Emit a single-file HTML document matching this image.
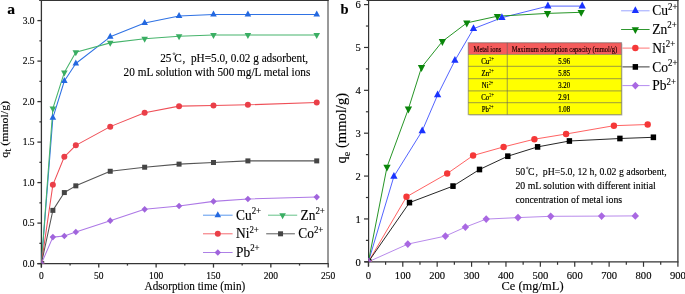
<!DOCTYPE html>
<html><head><meta charset="utf-8"><style>
html,body{margin:0;padding:0;background:#fff;width:685px;height:294px;overflow:hidden}
svg{display:block;will-change:transform}
</style></head><body>
<svg width="685" height="294" viewBox="0 0 685 294">
<defs><clipPath id="ca"><rect x="41.40" y="0.35" width="286.80" height="263.25"/></clipPath>
<clipPath id="cb"><rect x="368.40" y="0.30" width="309.50" height="261.50"/></clipPath></defs>
<line x1="39.40" y1="0.35" x2="328.70" y2="0.35" stroke="#353535" stroke-width="1.4"/>
<line x1="328.00" y1="0" x2="328.00" y2="263.60" stroke="#353535" stroke-width="1.0"/>
<line x1="41.40" y1="0" x2="41.40" y2="267.60" stroke="#353535" stroke-width="1.3"/>
<line x1="37.40" y1="263.60" x2="328.70" y2="263.60" stroke="#353535" stroke-width="1.3"/>
<g clip-path="url(#ca)">
<polyline points="41.40,263.60 52.87,117.80 64.34,81.03 75.82,63.53 110.23,36.80 144.65,23.03 179.06,15.90 213.48,14.53 247.90,14.53 316.73,14.53" fill="none" stroke="#2f72e4" stroke-width="1.05" stroke-linejoin="round"/>
<polyline points="41.40,263.60 52.87,108.49 64.34,72.44 75.82,52.19 110.23,42.88 144.65,38.83 179.06,36.23 213.48,35.02 247.90,35.02 316.73,35.02" fill="none" stroke="#47b46c" stroke-width="1.05" stroke-linejoin="round"/>
<polyline points="41.40,263.60 52.87,184.87 64.34,156.76 75.82,145.34 110.23,126.63 144.65,112.78 179.06,106.14 213.48,105.41 247.90,104.84 316.73,102.41" fill="none" stroke="#ef4f57" stroke-width="1.05" stroke-linejoin="round"/>
<polyline points="41.40,263.60 52.87,210.38 64.34,192.56 75.82,185.84 110.23,171.26 144.65,167.21 179.06,164.13 213.48,162.51 247.90,160.89 316.73,160.89" fill="none" stroke="#555555" stroke-width="1.05" stroke-linejoin="round"/>
<polyline points="41.40,263.60 52.87,237.11 64.34,235.98 75.82,232.01 110.23,220.67 144.65,209.33 179.06,206.01 213.48,201.39 247.90,198.96 316.73,197.10" fill="none" stroke="#ad78e6" stroke-width="1.05" stroke-linejoin="round"/>
<path d="M41.40,259.64L44.70,265.64L38.10,265.64Z" fill="#2368e0"/>
<path d="M52.87,113.84L56.17,119.84L49.57,119.84Z" fill="#2368e0"/>
<path d="M64.34,77.07L67.64,83.07L61.04,83.07Z" fill="#2368e0"/>
<path d="M75.82,59.57L79.12,65.57L72.52,65.57Z" fill="#2368e0"/>
<path d="M110.23,32.84L113.53,38.84L106.93,38.84Z" fill="#2368e0"/>
<path d="M144.65,19.07L147.95,25.07L141.35,25.07Z" fill="#2368e0"/>
<path d="M179.06,11.94L182.36,17.94L175.76,17.94Z" fill="#2368e0"/>
<path d="M213.48,10.57L216.78,16.57L210.18,16.57Z" fill="#2368e0"/>
<path d="M247.90,10.57L251.20,16.57L244.60,16.57Z" fill="#2368e0"/>
<path d="M316.73,10.57L320.03,16.57L313.43,16.57Z" fill="#2368e0"/>
<path d="M41.40,267.56L44.70,261.56L38.10,261.56Z" fill="#3aae63"/>
<path d="M52.87,112.45L56.17,106.45L49.57,106.45Z" fill="#3aae63"/>
<path d="M64.34,76.40L67.64,70.40L61.04,70.40Z" fill="#3aae63"/>
<path d="M75.82,56.15L79.12,50.15L72.52,50.15Z" fill="#3aae63"/>
<path d="M110.23,46.84L113.53,40.84L106.93,40.84Z" fill="#3aae63"/>
<path d="M144.65,42.79L147.95,36.79L141.35,36.79Z" fill="#3aae63"/>
<path d="M179.06,40.19L182.36,34.19L175.76,34.19Z" fill="#3aae63"/>
<path d="M213.48,38.98L216.78,32.98L210.18,32.98Z" fill="#3aae63"/>
<path d="M247.90,38.98L251.20,32.98L244.60,32.98Z" fill="#3aae63"/>
<path d="M316.73,38.98L320.03,32.98L313.43,32.98Z" fill="#3aae63"/>
<ellipse cx="41.40" cy="263.60" rx="3.00" ry="3.00" fill="#ea3f48"/>
<ellipse cx="52.87" cy="184.87" rx="3.00" ry="3.00" fill="#ea3f48"/>
<ellipse cx="64.34" cy="156.76" rx="3.00" ry="3.00" fill="#ea3f48"/>
<ellipse cx="75.82" cy="145.34" rx="3.00" ry="3.00" fill="#ea3f48"/>
<ellipse cx="110.23" cy="126.63" rx="3.00" ry="3.00" fill="#ea3f48"/>
<ellipse cx="144.65" cy="112.78" rx="3.00" ry="3.00" fill="#ea3f48"/>
<ellipse cx="179.06" cy="106.14" rx="3.00" ry="3.00" fill="#ea3f48"/>
<ellipse cx="213.48" cy="105.41" rx="3.00" ry="3.00" fill="#ea3f48"/>
<ellipse cx="247.90" cy="104.84" rx="3.00" ry="3.00" fill="#ea3f48"/>
<ellipse cx="316.73" cy="102.41" rx="3.00" ry="3.00" fill="#ea3f48"/>
<rect x="38.90" y="261.10" width="5.00" height="5.00" fill="#454545"/>
<rect x="50.37" y="207.88" width="5.00" height="5.00" fill="#454545"/>
<rect x="61.84" y="190.06" width="5.00" height="5.00" fill="#454545"/>
<rect x="73.32" y="183.34" width="5.00" height="5.00" fill="#454545"/>
<rect x="107.73" y="168.76" width="5.00" height="5.00" fill="#454545"/>
<rect x="142.15" y="164.71" width="5.00" height="5.00" fill="#454545"/>
<rect x="176.56" y="161.63" width="5.00" height="5.00" fill="#454545"/>
<rect x="210.98" y="160.01" width="5.00" height="5.00" fill="#454545"/>
<rect x="245.40" y="158.39" width="5.00" height="5.00" fill="#454545"/>
<rect x="314.23" y="158.39" width="5.00" height="5.00" fill="#454545"/>
<path d="M41.40,260.30L44.60,263.60L41.40,266.90L38.20,263.60Z" fill="#a064dc"/>
<path d="M52.87,233.81L56.07,237.11L52.87,240.41L49.67,237.11Z" fill="#a064dc"/>
<path d="M64.34,232.68L67.54,235.98L64.34,239.28L61.14,235.98Z" fill="#a064dc"/>
<path d="M75.82,228.71L79.02,232.01L75.82,235.31L72.62,232.01Z" fill="#a064dc"/>
<path d="M110.23,217.37L113.43,220.67L110.23,223.97L107.03,220.67Z" fill="#a064dc"/>
<path d="M144.65,206.03L147.85,209.33L144.65,212.63L141.45,209.33Z" fill="#a064dc"/>
<path d="M179.06,202.71L182.26,206.01L179.06,209.31L175.86,206.01Z" fill="#a064dc"/>
<path d="M213.48,198.09L216.68,201.39L213.48,204.69L210.28,201.39Z" fill="#a064dc"/>
<path d="M247.90,195.66L251.10,198.96L247.90,202.26L244.70,198.96Z" fill="#a064dc"/>
<path d="M316.73,193.80L319.93,197.10L316.73,200.40L313.53,197.10Z" fill="#a064dc"/>
</g>
<line x1="37.40" y1="263.60" x2="41.40" y2="263.60" stroke="#353535" stroke-width="1.3"/>
<text transform="translate(34.6,266.90) scale(1,1.07)" font-family="Liberation Serif" stroke="#000" stroke-width="0.13" font-size="9.5" text-anchor="end">0.0</text>
<line x1="39.40" y1="243.35" x2="41.40" y2="243.35" stroke="#353535" stroke-width="1.3"/>
<line x1="37.40" y1="223.10" x2="41.40" y2="223.10" stroke="#353535" stroke-width="1.3"/>
<text transform="translate(34.6,226.40) scale(1,1.07)" font-family="Liberation Serif" stroke="#000" stroke-width="0.13" font-size="9.5" text-anchor="end">0.5</text>
<line x1="39.40" y1="202.85" x2="41.40" y2="202.85" stroke="#353535" stroke-width="1.3"/>
<line x1="37.40" y1="182.60" x2="41.40" y2="182.60" stroke="#353535" stroke-width="1.3"/>
<text transform="translate(34.6,185.90) scale(1,1.07)" font-family="Liberation Serif" stroke="#000" stroke-width="0.13" font-size="9.5" text-anchor="end">1.0</text>
<line x1="39.40" y1="162.35" x2="41.40" y2="162.35" stroke="#353535" stroke-width="1.3"/>
<line x1="37.40" y1="142.10" x2="41.40" y2="142.10" stroke="#353535" stroke-width="1.3"/>
<text transform="translate(34.6,145.40) scale(1,1.07)" font-family="Liberation Serif" stroke="#000" stroke-width="0.13" font-size="9.5" text-anchor="end">1.5</text>
<line x1="39.40" y1="121.85" x2="41.40" y2="121.85" stroke="#353535" stroke-width="1.3"/>
<line x1="37.40" y1="101.60" x2="41.40" y2="101.60" stroke="#353535" stroke-width="1.3"/>
<text transform="translate(34.6,104.90) scale(1,1.07)" font-family="Liberation Serif" stroke="#000" stroke-width="0.13" font-size="9.5" text-anchor="end">2.0</text>
<line x1="39.40" y1="81.35" x2="41.40" y2="81.35" stroke="#353535" stroke-width="1.3"/>
<line x1="37.40" y1="61.10" x2="41.40" y2="61.10" stroke="#353535" stroke-width="1.3"/>
<text transform="translate(34.6,64.40) scale(1,1.07)" font-family="Liberation Serif" stroke="#000" stroke-width="0.13" font-size="9.5" text-anchor="end">2.5</text>
<line x1="39.40" y1="40.85" x2="41.40" y2="40.85" stroke="#353535" stroke-width="1.3"/>
<line x1="37.40" y1="20.60" x2="41.40" y2="20.60" stroke="#353535" stroke-width="1.3"/>
<text transform="translate(34.6,23.90) scale(1,1.07)" font-family="Liberation Serif" stroke="#000" stroke-width="0.13" font-size="9.5" text-anchor="end">3.0</text>
<line x1="39.40" y1="0.35" x2="41.40" y2="0.35" stroke="#353535" stroke-width="1.3"/>
<line x1="41.40" y1="263.60" x2="41.40" y2="267.60" stroke="#353535" stroke-width="1.3"/>
<text transform="translate(41.40,278.6) scale(1,1.07)" font-family="Liberation Serif" stroke="#000" stroke-width="0.13" font-size="9.5" text-anchor="middle">0</text>
<line x1="70.08" y1="263.60" x2="70.08" y2="265.60" stroke="#353535" stroke-width="1.3"/>
<line x1="98.76" y1="263.60" x2="98.76" y2="267.60" stroke="#353535" stroke-width="1.3"/>
<text transform="translate(98.76,278.6) scale(1,1.07)" font-family="Liberation Serif" stroke="#000" stroke-width="0.13" font-size="9.5" text-anchor="middle">50</text>
<line x1="127.44" y1="263.60" x2="127.44" y2="265.60" stroke="#353535" stroke-width="1.3"/>
<line x1="156.12" y1="263.60" x2="156.12" y2="267.60" stroke="#353535" stroke-width="1.3"/>
<text transform="translate(156.12,278.6) scale(1,1.07)" font-family="Liberation Serif" stroke="#000" stroke-width="0.13" font-size="9.5" text-anchor="middle">100</text>
<line x1="184.80" y1="263.60" x2="184.80" y2="265.60" stroke="#353535" stroke-width="1.3"/>
<line x1="213.48" y1="263.60" x2="213.48" y2="267.60" stroke="#353535" stroke-width="1.3"/>
<text transform="translate(213.48,278.6) scale(1,1.07)" font-family="Liberation Serif" stroke="#000" stroke-width="0.13" font-size="9.5" text-anchor="middle">150</text>
<line x1="242.16" y1="263.60" x2="242.16" y2="265.60" stroke="#353535" stroke-width="1.3"/>
<line x1="270.84" y1="263.60" x2="270.84" y2="267.60" stroke="#353535" stroke-width="1.3"/>
<text transform="translate(270.84,278.6) scale(1,1.07)" font-family="Liberation Serif" stroke="#000" stroke-width="0.13" font-size="9.5" text-anchor="middle">200</text>
<line x1="299.52" y1="263.60" x2="299.52" y2="265.60" stroke="#353535" stroke-width="1.3"/>
<line x1="328.20" y1="263.60" x2="328.20" y2="267.60" stroke="#353535" stroke-width="1.3"/>
<text transform="translate(328.20,278.6) scale(1,1.07)" font-family="Liberation Serif" stroke="#000" stroke-width="0.13" font-size="9.5" text-anchor="middle">250</text>
<text transform="translate(194.9,290) scale(1,1.07)" font-family="Liberation Serif" stroke="#000" stroke-width="0.13" font-size="11.2" text-anchor="middle">Adsorption time (min)</text>
<text transform="translate(8.4,129.3) rotate(-90) scale(1.06,1)" font-family="Liberation Serif" stroke="#000" stroke-width="0.13" font-size="11.2" text-anchor="middle">q<tspan font-size="10" dy="3.0">t</tspan><tspan dy="-3.0"> (mmol/g)</tspan></text>
<text transform="translate(7.2,13.6) scale(1.04,1.02)" font-family="Liberation Serif" stroke="#000" stroke-width="0.13" font-size="15" font-weight="bold">a</text>
<text transform="translate(160.2,61.6) scale(1,1.06)" font-family="Liberation Serif" stroke="#000" stroke-width="0.13" font-size="11.25">25</text>
<circle cx="174.0" cy="53.7" r="0.9" fill="none" stroke="#000" stroke-width="0.55"/>
<text transform="translate(174.2,61.6) scale(1,1.06)" font-family="Liberation Serif" stroke="#000" stroke-width="0.13" font-size="11.25">C</text>
<text transform="translate(182.4,61.6) scale(1,1.06)" font-family="Liberation Serif" stroke="#000" stroke-width="0.13" font-size="11.25">,</text>
<text transform="translate(191.0,61.6) scale(1,1.06)" font-family="Liberation Serif" stroke="#000" stroke-width="0.13" font-size="11.25">pH=5.0, 0.02 g adsorbent,</text>
<text transform="translate(123.6,75.6) scale(1,1.06)" font-family="Liberation Serif" stroke="#000" stroke-width="0.13" font-size="11.25">20 mL solution with 500 mg/L metal ions</text>
<line x1="203" y1="215.2" x2="232.6" y2="215.2" stroke="#5a98ee" stroke-width="1.0"/>
<path d="M217.80,211.24L221.10,217.24L214.50,217.24Z" fill="#2368e0"/>
<text transform="translate(236.0,219.80) scale(1,1.07)" font-family="Liberation Serif" stroke="#000" stroke-width="0.13" font-size="13.4">Cu<tspan font-size="8.90" dy="-5.30">2+</tspan></text>
<line x1="268" y1="215.2" x2="297.2" y2="215.2" stroke="#66c288" stroke-width="1.0"/>
<path d="M282.60,219.16L285.90,213.16L279.30,213.16Z" fill="#3aae63"/>
<text transform="translate(300.5,219.80) scale(1,1.07)" font-family="Liberation Serif" stroke="#000" stroke-width="0.13" font-size="13.4">Zn<tspan font-size="8.90" dy="-5.30">2+</tspan></text>
<line x1="203" y1="233.8" x2="232.6" y2="233.8" stroke="#f46a70" stroke-width="1.0"/>
<ellipse cx="217.80" cy="233.80" rx="3.00" ry="3.00" fill="#ea3f48"/>
<text transform="translate(236.0,238.40) scale(1,1.07)" font-family="Liberation Serif" stroke="#000" stroke-width="0.13" font-size="13.4">Ni<tspan font-size="8.90" dy="-5.30">2+</tspan></text>
<line x1="266.2" y1="233.8" x2="294.9" y2="233.8" stroke="#5c5c5c" stroke-width="1.0"/>
<rect x="278.05" y="231.30" width="5.00" height="5.00" fill="#454545"/>
<text transform="translate(298.3,238.40) scale(1,1.07)" font-family="Liberation Serif" stroke="#000" stroke-width="0.13" font-size="13.4">Co<tspan font-size="8.90" dy="-5.30">2+</tspan></text>
<line x1="203" y1="252.5" x2="232.6" y2="252.5" stroke="#ad80e6" stroke-width="1.0"/>
<path d="M217.80,249.20L221.00,252.50L217.80,255.80L214.60,252.50Z" fill="#a064dc"/>
<text transform="translate(236.0,257.10) scale(1,1.07)" font-family="Liberation Serif" stroke="#000" stroke-width="0.13" font-size="13.4">Pb<tspan font-size="8.90" dy="-5.30">2+</tspan></text>
<line x1="366.60" y1="0.30" x2="678.50" y2="0.30" stroke="#333" stroke-width="1.4"/>
<line x1="677.90" y1="0" x2="677.90" y2="261.80" stroke="#333" stroke-width="1.25"/>
<line x1="368.60" y1="0" x2="368.60" y2="266.30" stroke="#333" stroke-width="1.2"/>
<line x1="364.60" y1="261.80" x2="678.50" y2="261.80" stroke="#333" stroke-width="1.2"/>
<g clip-path="url(#cb)">
<polyline points="368.40,261.80 393.90,176.40 422.20,130.90 437.60,95.00 454.90,60.50 473.50,28.70 501.90,17.70 547.90,6.10 582.20,6.10" fill="none" stroke="#4a5cff" stroke-width="0.95" stroke-linejoin="round"/>
<polyline points="368.40,261.80 387.00,167.00 408.40,108.90 421.50,67.40 442.40,41.40 466.80,22.90 497.40,16.20 547.50,13.40 581.20,12.30" fill="none" stroke="#1a8f1a" stroke-width="0.95" stroke-linejoin="round"/>
<polyline points="368.40,261.80 406.50,196.80 447.20,173.60 473.10,155.50 503.60,146.90 534.40,139.20 566.10,134.00 613.90,125.70 647.70,124.50" fill="none" stroke="#ff5a5a" stroke-width="0.95" stroke-linejoin="round"/>
<polyline points="368.40,261.80 409.50,202.60 453.00,186.10 479.50,169.50 507.80,156.20 537.60,146.90 569.40,141.00 619.90,138.50 653.40,137.30" fill="none" stroke="#1a1a1a" stroke-width="0.95" stroke-linejoin="round"/>
<polyline points="368.40,261.80 407.80,244.10 445.40,236.10 465.40,227.10 486.20,219.10 518.00,217.60 550.70,216.30 601.60,216.10 635.30,215.90" fill="none" stroke="#b484ea" stroke-width="0.95" stroke-linejoin="round"/>
<path d="M368.40,257.31L372.05,264.11L364.75,264.11Z" fill="#1a33ff"/>
<path d="M393.90,171.91L397.55,178.71L390.25,178.71Z" fill="#1a33ff"/>
<path d="M422.20,126.41L425.85,133.21L418.55,133.21Z" fill="#1a33ff"/>
<path d="M437.60,90.51L441.25,97.31L433.95,97.31Z" fill="#1a33ff"/>
<path d="M454.90,56.01L458.55,62.81L451.25,62.81Z" fill="#1a33ff"/>
<path d="M473.50,24.21L477.15,31.01L469.85,31.01Z" fill="#1a33ff"/>
<path d="M501.90,13.21L505.55,20.01L498.25,20.01Z" fill="#1a33ff"/>
<path d="M547.90,1.61L551.55,8.41L544.25,8.41Z" fill="#1a33ff"/>
<path d="M582.20,1.61L585.85,8.41L578.55,8.41Z" fill="#1a33ff"/>
<path d="M368.40,266.29L372.05,259.49L364.75,259.49Z" fill="#0a860a"/>
<path d="M387.00,171.49L390.65,164.69L383.35,164.69Z" fill="#0a860a"/>
<path d="M408.40,113.39L412.05,106.59L404.75,106.59Z" fill="#0a860a"/>
<path d="M421.50,71.89L425.15,65.09L417.85,65.09Z" fill="#0a860a"/>
<path d="M442.40,45.89L446.05,39.09L438.75,39.09Z" fill="#0a860a"/>
<path d="M466.80,27.39L470.45,20.59L463.15,20.59Z" fill="#0a860a"/>
<path d="M497.40,20.69L501.05,13.89L493.75,13.89Z" fill="#0a860a"/>
<path d="M547.50,17.89L551.15,11.09L543.85,11.09Z" fill="#0a860a"/>
<path d="M581.20,16.79L584.85,9.99L577.55,9.99Z" fill="#0a860a"/>
<ellipse cx="368.40" cy="261.80" rx="3.20" ry="3.25" fill="#f53838"/>
<ellipse cx="406.50" cy="196.80" rx="3.20" ry="3.25" fill="#f53838"/>
<ellipse cx="447.20" cy="173.60" rx="3.20" ry="3.25" fill="#f53838"/>
<ellipse cx="473.10" cy="155.50" rx="3.20" ry="3.25" fill="#f53838"/>
<ellipse cx="503.60" cy="146.90" rx="3.20" ry="3.25" fill="#f53838"/>
<ellipse cx="534.40" cy="139.20" rx="3.20" ry="3.25" fill="#f53838"/>
<ellipse cx="566.10" cy="134.00" rx="3.20" ry="3.25" fill="#f53838"/>
<ellipse cx="613.90" cy="125.70" rx="3.20" ry="3.25" fill="#f53838"/>
<ellipse cx="647.70" cy="124.50" rx="3.20" ry="3.25" fill="#f53838"/>
<rect x="365.70" y="258.95" width="5.40" height="5.70" fill="#000000"/>
<rect x="406.80" y="199.75" width="5.40" height="5.70" fill="#000000"/>
<rect x="450.30" y="183.25" width="5.40" height="5.70" fill="#000000"/>
<rect x="476.80" y="166.65" width="5.40" height="5.70" fill="#000000"/>
<rect x="505.10" y="153.35" width="5.40" height="5.70" fill="#000000"/>
<rect x="534.90" y="144.05" width="5.40" height="5.70" fill="#000000"/>
<rect x="566.70" y="138.15" width="5.40" height="5.70" fill="#000000"/>
<rect x="617.20" y="135.65" width="5.40" height="5.70" fill="#000000"/>
<rect x="650.70" y="134.45" width="5.40" height="5.70" fill="#000000"/>
<path d="M368.40,257.90L372.10,261.80L368.40,265.70L364.70,261.80Z" fill="#a968e2"/>
<path d="M407.80,240.20L411.50,244.10L407.80,248.00L404.10,244.10Z" fill="#a968e2"/>
<path d="M445.40,232.20L449.10,236.10L445.40,240.00L441.70,236.10Z" fill="#a968e2"/>
<path d="M465.40,223.20L469.10,227.10L465.40,231.00L461.70,227.10Z" fill="#a968e2"/>
<path d="M486.20,215.20L489.90,219.10L486.20,223.00L482.50,219.10Z" fill="#a968e2"/>
<path d="M518.00,213.70L521.70,217.60L518.00,221.50L514.30,217.60Z" fill="#a968e2"/>
<path d="M550.70,212.40L554.40,216.30L550.70,220.20L547.00,216.30Z" fill="#a968e2"/>
<path d="M601.60,212.20L605.30,216.10L601.60,220.00L597.90,216.10Z" fill="#a968e2"/>
<path d="M635.30,212.00L639.00,215.90L635.30,219.80L631.60,215.90Z" fill="#a968e2"/>
</g>
<line x1="364.00" y1="261.80" x2="368.60" y2="261.80" stroke="#333" stroke-width="1.2"/>
<text transform="translate(360.9,265.50) scale(1,1.07)" font-family="Liberation Serif" stroke="#000" stroke-width="0.13" font-size="10.6" text-anchor="end">0</text>
<line x1="365.90" y1="240.37" x2="368.60" y2="240.37" stroke="#333" stroke-width="1.2"/>
<line x1="364.00" y1="218.93" x2="368.60" y2="218.93" stroke="#333" stroke-width="1.2"/>
<text transform="translate(360.9,222.63) scale(1,1.07)" font-family="Liberation Serif" stroke="#000" stroke-width="0.13" font-size="10.6" text-anchor="end">1</text>
<line x1="365.90" y1="197.50" x2="368.60" y2="197.50" stroke="#333" stroke-width="1.2"/>
<line x1="364.00" y1="176.07" x2="368.60" y2="176.07" stroke="#333" stroke-width="1.2"/>
<text transform="translate(360.9,179.77) scale(1,1.07)" font-family="Liberation Serif" stroke="#000" stroke-width="0.13" font-size="10.6" text-anchor="end">2</text>
<line x1="365.90" y1="154.63" x2="368.60" y2="154.63" stroke="#333" stroke-width="1.2"/>
<line x1="364.00" y1="133.20" x2="368.60" y2="133.20" stroke="#333" stroke-width="1.2"/>
<text transform="translate(360.9,136.90) scale(1,1.07)" font-family="Liberation Serif" stroke="#000" stroke-width="0.13" font-size="10.6" text-anchor="end">3</text>
<line x1="365.90" y1="111.77" x2="368.60" y2="111.77" stroke="#333" stroke-width="1.2"/>
<line x1="364.00" y1="90.33" x2="368.60" y2="90.33" stroke="#333" stroke-width="1.2"/>
<text transform="translate(360.9,94.03) scale(1,1.07)" font-family="Liberation Serif" stroke="#000" stroke-width="0.13" font-size="10.6" text-anchor="end">4</text>
<line x1="365.90" y1="68.90" x2="368.60" y2="68.90" stroke="#333" stroke-width="1.2"/>
<line x1="364.00" y1="47.47" x2="368.60" y2="47.47" stroke="#333" stroke-width="1.2"/>
<text transform="translate(360.9,51.17) scale(1,1.07)" font-family="Liberation Serif" stroke="#000" stroke-width="0.13" font-size="10.6" text-anchor="end">5</text>
<line x1="365.90" y1="26.03" x2="368.60" y2="26.03" stroke="#333" stroke-width="1.2"/>
<line x1="364.00" y1="4.60" x2="368.60" y2="4.60" stroke="#333" stroke-width="1.2"/>
<text transform="translate(360.9,8.30) scale(1,1.07)" font-family="Liberation Serif" stroke="#000" stroke-width="0.13" font-size="10.6" text-anchor="end">6</text>
<line x1="368.40" y1="261.80" x2="368.40" y2="266.80" stroke="#333" stroke-width="1.2"/>
<text transform="translate(368.40,279.3) scale(1,1.07)" font-family="Liberation Serif" stroke="#000" stroke-width="0.13" font-size="10.6" text-anchor="middle">0</text>
<line x1="385.59" y1="261.80" x2="385.59" y2="264.80" stroke="#333" stroke-width="1.2"/>
<line x1="402.79" y1="261.80" x2="402.79" y2="266.80" stroke="#333" stroke-width="1.2"/>
<text transform="translate(402.79,279.3) scale(1,1.07)" font-family="Liberation Serif" stroke="#000" stroke-width="0.13" font-size="10.6" text-anchor="middle">100</text>
<line x1="419.98" y1="261.80" x2="419.98" y2="264.80" stroke="#333" stroke-width="1.2"/>
<line x1="437.18" y1="261.80" x2="437.18" y2="266.80" stroke="#333" stroke-width="1.2"/>
<text transform="translate(437.18,279.3) scale(1,1.07)" font-family="Liberation Serif" stroke="#000" stroke-width="0.13" font-size="10.6" text-anchor="middle">200</text>
<line x1="454.37" y1="261.80" x2="454.37" y2="264.80" stroke="#333" stroke-width="1.2"/>
<line x1="471.57" y1="261.80" x2="471.57" y2="266.80" stroke="#333" stroke-width="1.2"/>
<text transform="translate(471.57,279.3) scale(1,1.07)" font-family="Liberation Serif" stroke="#000" stroke-width="0.13" font-size="10.6" text-anchor="middle">300</text>
<line x1="488.76" y1="261.80" x2="488.76" y2="264.80" stroke="#333" stroke-width="1.2"/>
<line x1="505.96" y1="261.80" x2="505.96" y2="266.80" stroke="#333" stroke-width="1.2"/>
<text transform="translate(505.96,279.3) scale(1,1.07)" font-family="Liberation Serif" stroke="#000" stroke-width="0.13" font-size="10.6" text-anchor="middle">400</text>
<line x1="523.15" y1="261.80" x2="523.15" y2="264.80" stroke="#333" stroke-width="1.2"/>
<line x1="540.34" y1="261.80" x2="540.34" y2="266.80" stroke="#333" stroke-width="1.2"/>
<text transform="translate(540.34,279.3) scale(1,1.07)" font-family="Liberation Serif" stroke="#000" stroke-width="0.13" font-size="10.6" text-anchor="middle">500</text>
<line x1="557.54" y1="261.80" x2="557.54" y2="264.80" stroke="#333" stroke-width="1.2"/>
<line x1="574.73" y1="261.80" x2="574.73" y2="266.80" stroke="#333" stroke-width="1.2"/>
<text transform="translate(574.73,279.3) scale(1,1.07)" font-family="Liberation Serif" stroke="#000" stroke-width="0.13" font-size="10.6" text-anchor="middle">600</text>
<line x1="591.93" y1="261.80" x2="591.93" y2="264.80" stroke="#333" stroke-width="1.2"/>
<line x1="609.12" y1="261.80" x2="609.12" y2="266.80" stroke="#333" stroke-width="1.2"/>
<text transform="translate(609.12,279.3) scale(1,1.07)" font-family="Liberation Serif" stroke="#000" stroke-width="0.13" font-size="10.6" text-anchor="middle">700</text>
<line x1="626.32" y1="261.80" x2="626.32" y2="264.80" stroke="#333" stroke-width="1.2"/>
<line x1="643.51" y1="261.80" x2="643.51" y2="266.80" stroke="#333" stroke-width="1.2"/>
<text transform="translate(643.51,279.3) scale(1,1.07)" font-family="Liberation Serif" stroke="#000" stroke-width="0.13" font-size="10.6" text-anchor="middle">800</text>
<line x1="660.71" y1="261.80" x2="660.71" y2="264.80" stroke="#333" stroke-width="1.2"/>
<line x1="677.90" y1="261.80" x2="677.90" y2="266.80" stroke="#333" stroke-width="1.2"/>
<text transform="translate(677.90,279.3) scale(1,1.07)" font-family="Liberation Serif" stroke="#000" stroke-width="0.13" font-size="10.6" text-anchor="middle">900</text>
<text transform="translate(532.5,289.6) scale(1,1.07)" font-family="Liberation Serif" stroke="#000" stroke-width="0.13" font-size="12.5" text-anchor="middle">Ce (mg/mL)</text>
<text transform="translate(345.9,128.2) rotate(-90)" font-family="Liberation Serif" stroke="#000" stroke-width="0.13" font-size="14.6" text-anchor="middle">q<tspan font-size="10" dy="4.4">e</tspan><tspan dy="-4.4"> (mmol/g)</tspan></text>
<text transform="translate(340.4,13.6) scale(0.97,1)" font-family="Liberation Serif" stroke="#000" stroke-width="0.13" font-size="15" font-weight="bold">b</text>
<text transform="translate(515.4,174.8) scale(1,1.06)" font-family="Liberation Serif" stroke="#000" stroke-width="0.13" font-size="9.8">50</text>
<circle cx="527.3" cy="168.0" r="0.8" fill="none" stroke="#000" stroke-width="0.55"/>
<text transform="translate(528.0,174.8) scale(1,1.06)" font-family="Liberation Serif" stroke="#000" stroke-width="0.13" font-size="9.8">C</text>
<text transform="translate(535.5,174.8) scale(1,1.06)" font-family="Liberation Serif" stroke="#000" stroke-width="0.13" font-size="9.8">,</text>
<text transform="translate(542.8,174.8) scale(1,1.06)" font-family="Liberation Serif" stroke="#000" stroke-width="0.13" font-size="9.8">pH=5.0, 12 h, 0.02 g adsorbent,</text>
<text transform="translate(515.4,189.2) scale(1,1.06)" font-family="Liberation Serif" stroke="#000" stroke-width="0.13" font-size="9.8">20 mL solution with different initial</text>
<text transform="translate(515.4,202.9) scale(1,1.06)" font-family="Liberation Serif" stroke="#000" stroke-width="0.13" font-size="9.8">concentration of metal ions</text>
<line x1="621.1" y1="10.8" x2="649.6" y2="10.8" stroke="#9aa4ff" stroke-width="1.0"/>
<path d="M635.35,6.31L639.00,13.11L631.70,13.11Z" fill="#1a33ff"/>
<text transform="translate(652.3,15.40) scale(1,1.07)" font-family="Liberation Serif" stroke="#000" stroke-width="0.13" font-size="13.5">Cu<tspan font-size="8.90" dy="-5.30">2+</tspan></text>
<line x1="621.1" y1="29.5" x2="649.6" y2="29.5" stroke="#2e962e" stroke-width="1.0"/>
<path d="M635.35,33.99L639.00,27.19L631.70,27.19Z" fill="#0a860a"/>
<text transform="translate(652.3,34.10) scale(1,1.07)" font-family="Liberation Serif" stroke="#000" stroke-width="0.13" font-size="13.5">Zn<tspan font-size="8.90" dy="-5.30">2+</tspan></text>
<line x1="621.1" y1="48.1" x2="649.6" y2="48.1" stroke="#ff7474" stroke-width="1.0"/>
<ellipse cx="635.35" cy="48.10" rx="3.20" ry="3.25" fill="#f53838"/>
<text transform="translate(652.3,52.70) scale(1,1.07)" font-family="Liberation Serif" stroke="#000" stroke-width="0.13" font-size="13.5">Ni<tspan font-size="8.90" dy="-5.30">2+</tspan></text>
<line x1="621.1" y1="66.9" x2="649.6" y2="66.9" stroke="#3a3a3a" stroke-width="1.0"/>
<rect x="632.65" y="64.05" width="5.40" height="5.70" fill="#000000"/>
<text transform="translate(652.3,71.50) scale(1,1.07)" font-family="Liberation Serif" stroke="#000" stroke-width="0.13" font-size="13.5">Co<tspan font-size="8.90" dy="-5.30">2+</tspan></text>
<line x1="621.1" y1="85.6" x2="649.6" y2="85.6" stroke="#b48cf0" stroke-width="1.0"/>
<path d="M635.35,81.70L639.05,85.60L635.35,89.50L631.65,85.60Z" fill="#a968e2"/>
<text transform="translate(652.3,90.20) scale(1,1.07)" font-family="Liberation Serif" stroke="#000" stroke-width="0.13" font-size="13.5">Pb<tspan font-size="8.90" dy="-5.30">2+</tspan></text>
<rect x="469.3" y="43.7" width="153.2" height="71.89999999999999" fill="#d8d8d8"/>
<rect x="468.3" y="42.7" width="153.2" height="11.799999999999997" fill="#f55c5c"/>
<rect x="468.3" y="54.5" width="153.2" height="60.099999999999994" fill="#ffff00"/>
<line x1="468.3" y1="54.5" x2="621.5" y2="54.5" stroke="rgba(95,95,95,0.5)" stroke-width="1.2"/>
<line x1="468.3" y1="66.4" x2="621.5" y2="66.4" stroke="rgba(95,95,95,0.5)" stroke-width="1.2"/>
<line x1="468.3" y1="78.7" x2="621.5" y2="78.7" stroke="rgba(95,95,95,0.5)" stroke-width="1.2"/>
<line x1="468.3" y1="90.9" x2="621.5" y2="90.9" stroke="rgba(95,95,95,0.5)" stroke-width="1.2"/>
<line x1="468.3" y1="102.6" x2="621.5" y2="102.6" stroke="rgba(95,95,95,0.5)" stroke-width="1.2"/>
<line x1="507.3" y1="42.7" x2="507.3" y2="114.6" stroke="rgba(95,95,95,0.5)" stroke-width="1.2"/>
<rect x="468.3" y="42.7" width="153.2" height="71.89999999999999" fill="none" stroke="rgba(95,95,95,0.5)" stroke-width="1.2"/>
<text transform="translate(487.4,51.7) scale(1,1.4)" font-family="Liberation Serif" font-size="6.5" fill="#200" stroke="#200" stroke-width="0.14" text-anchor="middle">Metal ions</text>
<text transform="translate(564.4,51.7) scale(1,1.4)" font-family="Liberation Serif" font-size="6.5" fill="#200" stroke="#200" stroke-width="0.14" text-anchor="middle">Maximum adsorption capacity (mmol/g)</text>
<text transform="translate(487.6,63.85) scale(1,1.19)" font-family="Liberation Serif" font-size="6.8" stroke="#000" stroke-width="0.18" text-anchor="middle">Cu<tspan font-size="4.4" dy="-2.6" stroke-width="0.06">2+</tspan></text>
<text transform="translate(564.2,63.85) scale(1,1.19)" font-family="Liberation Serif" font-size="6.8" stroke="#000" stroke-width="0.18" text-anchor="middle">5.96</text>
<text transform="translate(487.6,75.95) scale(1,1.19)" font-family="Liberation Serif" font-size="6.8" stroke="#000" stroke-width="0.18" text-anchor="middle">Zn<tspan font-size="4.4" dy="-2.6" stroke-width="0.06">2+</tspan></text>
<text transform="translate(564.2,75.95) scale(1,1.19)" font-family="Liberation Serif" font-size="6.8" stroke="#000" stroke-width="0.18" text-anchor="middle">5.85</text>
<text transform="translate(487.6,88.20) scale(1,1.19)" font-family="Liberation Serif" font-size="6.8" stroke="#000" stroke-width="0.18" text-anchor="middle">Ni<tspan font-size="4.4" dy="-2.6" stroke-width="0.06">2+</tspan></text>
<text transform="translate(564.2,88.20) scale(1,1.19)" font-family="Liberation Serif" font-size="6.8" stroke="#000" stroke-width="0.18" text-anchor="middle">3.20</text>
<text transform="translate(487.6,100.15) scale(1,1.19)" font-family="Liberation Serif" font-size="6.8" stroke="#000" stroke-width="0.18" text-anchor="middle">Co<tspan font-size="4.4" dy="-2.6" stroke-width="0.06">2+</tspan></text>
<text transform="translate(564.2,100.15) scale(1,1.19)" font-family="Liberation Serif" font-size="6.8" stroke="#000" stroke-width="0.18" text-anchor="middle">2.91</text>
<text transform="translate(487.6,112.00) scale(1,1.19)" font-family="Liberation Serif" font-size="6.8" stroke="#000" stroke-width="0.18" text-anchor="middle">Pb<tspan font-size="4.4" dy="-2.6" stroke-width="0.06">2+</tspan></text>
<text transform="translate(564.2,112.00) scale(1,1.19)" font-family="Liberation Serif" font-size="6.8" stroke="#000" stroke-width="0.18" text-anchor="middle">1.08</text>
</svg>
</body></html>
